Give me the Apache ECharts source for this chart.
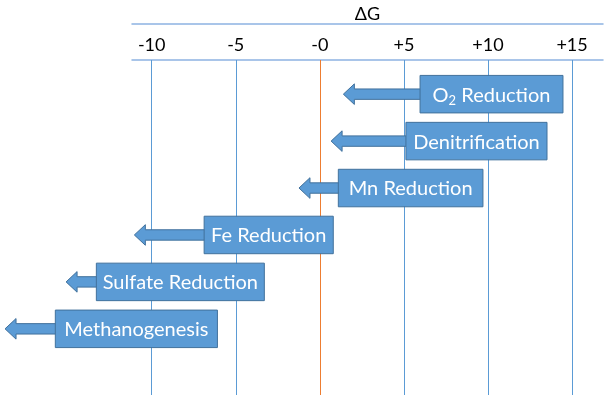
<!DOCTYPE html>
<html><head><meta charset="utf-8">
<script src="https://cdn.jsdelivr.net/npm/echarts@6/dist/echarts.min.js"></script>
<style>html,body{margin:0;padding:0;background:#fff}#c{width:609px;height:395px}</style>
</head><body><div id="c"></div>
<script>
// ---- data ----
const processes = ['O2 Reduction', 'Denitrification', 'Mn Reduction', 'Fe Reduction', 'Sulfate Reduction', 'Methanogenesis'];
const arrowTip = [1.40, 0.67, -1.24, -11.03, -15.09, -18.72];
const boxStart = [5.96, 5.12, 1.10, -6.88, -13.29, -15.73];
const boxEnd = [14.46, 13.51, 9.70, 0.80, -3.30, -6.09];
const tickValues = [-10, -5, 0, 5, 10, 15];
const tickLabels = ['-10', '-5', '-0', '+5', '+10', '+15'];
const axisName = 'ΔG';

// ---- layout / style ----
const X_MIN = -11.17, X_MAX = 16.84;
const FONT = 'Lato, Carlito, Calibri, sans-serif';
const FILL = '#5b9bd5', EDGE = '#41719c';
const AXIS_COLOR = '#8db3e2';
const GRID_LINE = '#5b9bd5', ZERO_LINE = '#ed7d31';

function richLabel(name) {
  // render "O2" with subscript 2
  const m = name.match(/^O2(.*)$/);
  if (m) return '{n|O}{s|2}{n|' + m[1] + '}';
  return '{n|' + name + '}';
}

const chart = echarts.init(document.getElementById('c'), null, {renderer: 'canvas'});
chart.setOption({
  animation: false,
  backgroundColor: '#fff',
  color: [GRID_LINE],
  grid: [
    {left: 132, right: 6, top: 60, bottom: 0},
    {left: 132, right: 6, top: 70.7, bottom: 42.7}
  ],
  xAxis: [
    {
      gridIndex: 0, type: 'value', position: 'top', min: X_MIN, max: X_MAX,
      axisLine: {show: true, onZero: false, lineStyle: {color: AXIS_COLOR, width: 1.5}},
      axisTick: {show: false}, splitLine: {show: false},
      axisLabel: {
        customValues: tickValues,
        formatter: v => { const k = tickValues.indexOf(v); return k >= 0 ? tickLabels[k] : ''; },
        fontFamily: FONT, fontSize: 18, color: '#000', margin: 6
      }
    },
    {
      gridIndex: 0, type: 'value', position: 'top', offset: 36, min: X_MIN, max: X_MAX,
      axisLine: {show: true, onZero: false, lineStyle: {color: AXIS_COLOR, width: 1.5}},
      axisTick: {show: false}, axisLabel: {show: false}, splitLine: {show: false},
      name: axisName, nameLocation: 'middle', nameGap: 1,
      nameTextStyle: {fontFamily: FONT, fontSize: 18, color: '#000'}
    },
    {gridIndex: 1, type: 'value', min: X_MIN, max: X_MAX, show: false}
  ],
  yAxis: [
    {gridIndex: 0, type: 'value', min: 0, max: 1, show: false},
    {gridIndex: 1, type: 'category', data: processes, inverse: true, show: false}
  ],
  series: [
    {
      type: 'scatter', xAxisIndex: 0, yAxisIndex: 0, data: [], silent: true, z: 1,
      markLine: {
        silent: true, symbol: 'none', animation: false, z: 1,
        label: {show: false},
        lineStyle: {color: GRID_LINE, width: 1, type: 'solid', opacity: 1},
        data: tickValues.map(v => ({
          xAxis: v,
          lineStyle: {color: v === 0 ? ZERO_LINE : GRID_LINE, width: 1, type: 'solid', opacity: 1}
        }))
      }
    },
    {
      type: 'custom', xAxisIndex: 2, yAxisIndex: 1, clip: false, z: 10,
      data: processes.map((p, i) => [i, arrowTip[i], boxStart[i], boxEnd[i]]),
      renderItem: function (params, api) {
        const i = api.value(0);
        const pT = api.coord([api.value(1), i]);
        const pS = api.coord([api.value(2), i]);
        const pE = api.coord([api.value(3), i]);
        const cy = pT[1];
        const headLen = 11, headHalf = 10.3, shaftHalf = 5.2, boxH = 37.5;
        const tx = pT[0];
        const arrow = {
          type: 'polygon',
          shape: {points: [
            [tx, cy], [tx + headLen, cy - headHalf], [tx + headLen, cy - shaftHalf],
            [pS[0] + 2, cy - shaftHalf], [pS[0] + 2, cy + shaftHalf],
            [tx + headLen, cy + shaftHalf], [tx + headLen, cy + headHalf]
          ]},
          style: {fill: FILL, stroke: EDGE, lineWidth: 1}
        };
        const box = {
          type: 'rect',
          shape: {x: pS[0], y: cy - boxH / 2, width: pE[0] - pS[0], height: boxH},
          style: {fill: FILL, stroke: EDGE, lineWidth: 1}
        };
        const text = {
          type: 'text',
          style: {
            text: richLabel(processes[i]),
            x: (pS[0] + pE[0]) / 2, y: cy + 1,
            align: 'center', verticalAlign: 'middle',
            fill: '#fff',
            rich: {
              n: {fontFamily: FONT, fontSize: 20, fill: '#fff', lineHeight: 24, verticalAlign: 'middle'},
              s: {fontFamily: FONT, fontSize: 13, fill: '#fff', lineHeight: 14, verticalAlign: 'bottom'}
            }
          }
        };
        return {type: 'group', children: [arrow, box, text]};
      }
    }
  ]
});
</script>
</body></html>
